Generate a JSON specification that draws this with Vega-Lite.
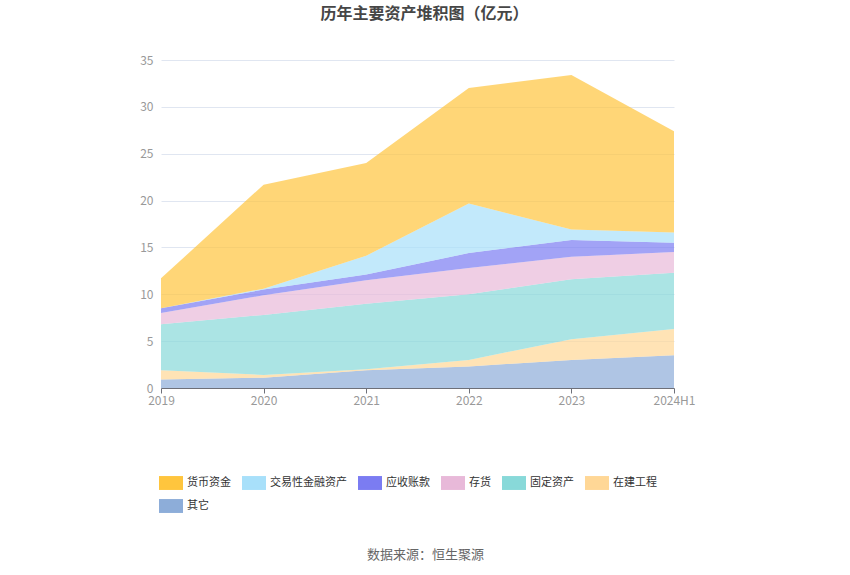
{
  "$schema": "https://vega.github.io/schema/vega-lite/v6.json",
  "autosize": {"type": "none"},
  "width": 513,
  "height": 328,
  "padding": {"left": 161, "top": 60, "right": 176, "bottom": 187},
  "title": {
    "text": "历年主要资产堆积图（亿元）",
    "font": "Noto Sans CJK SC",
    "fontSize": 16,
    "fontWeight": "bold",
    "color": "#464646",
    "anchor": "middle",
    "dx": 7,
    "offset": 32
  },
  "data": {
    "values": [
      {"year": "2019", "series": "其它", "value": 0.9},
      {"year": "2019", "series": "在建工程", "value": 1.0},
      {"year": "2019", "series": "固定资产", "value": 4.9},
      {"year": "2019", "series": "存货", "value": 1.2},
      {"year": "2019", "series": "应收账款", "value": 0.5},
      {"year": "2019", "series": "交易性金融资产", "value": 0.0},
      {"year": "2019", "series": "货币资金", "value": 3.2},
      {"year": "2020", "series": "其它", "value": 1.1},
      {"year": "2020", "series": "在建工程", "value": 0.3},
      {"year": "2020", "series": "固定资产", "value": 6.4},
      {"year": "2020", "series": "存货", "value": 2.1},
      {"year": "2020", "series": "应收账款", "value": 0.6},
      {"year": "2020", "series": "交易性金融资产", "value": 0.1},
      {"year": "2020", "series": "货币资金", "value": 11.1},
      {"year": "2021", "series": "其它", "value": 1.9},
      {"year": "2021", "series": "在建工程", "value": 0.1},
      {"year": "2021", "series": "固定资产", "value": 7.0},
      {"year": "2021", "series": "存货", "value": 2.5},
      {"year": "2021", "series": "应收账款", "value": 0.6},
      {"year": "2021", "series": "交易性金融资产", "value": 2.0},
      {"year": "2021", "series": "货币资金", "value": 9.9},
      {"year": "2022", "series": "其它", "value": 2.3},
      {"year": "2022", "series": "在建工程", "value": 0.7},
      {"year": "2022", "series": "固定资产", "value": 7.0},
      {"year": "2022", "series": "存货", "value": 2.8},
      {"year": "2022", "series": "应收账款", "value": 1.6},
      {"year": "2022", "series": "交易性金融资产", "value": 5.3},
      {"year": "2022", "series": "货币资金", "value": 12.3},
      {"year": "2023", "series": "其它", "value": 3.0},
      {"year": "2023", "series": "在建工程", "value": 2.2},
      {"year": "2023", "series": "固定资产", "value": 6.4},
      {"year": "2023", "series": "存货", "value": 2.4},
      {"year": "2023", "series": "应收账款", "value": 1.8},
      {"year": "2023", "series": "交易性金融资产", "value": 1.1},
      {"year": "2023", "series": "货币资金", "value": 16.5},
      {"year": "2024H1", "series": "其它", "value": 3.5},
      {"year": "2024H1", "series": "在建工程", "value": 2.8},
      {"year": "2024H1", "series": "固定资产", "value": 6.0},
      {"year": "2024H1", "series": "存货", "value": 2.2},
      {"year": "2024H1", "series": "应收账款", "value": 1.0},
      {"year": "2024H1", "series": "交易性金融资产", "value": 1.1},
      {"year": "2024H1", "series": "货币资金", "value": 10.8}
    ]
  },
  "transform": [
    {"calculate": "indexof(['其它','在建工程','固定资产','存货','应收账款','交易性金融资产','货币资金'], datum.series)", "as": "stackRank"}
  ],
  "mark": {"type": "area", "opacity": 0.7, "interpolate": "linear"},
  "encoding": {
    "x": {
      "field": "year",
      "type": "ordinal",
      "scale": {"type": "point", "padding": 0},
      "axis": {
        "labelAngle": 0,
        "labelColor": "#999999",
        "labelFontSize": 12,
        "labelPadding": 2,
        "domainColor": "#6E7079",
        "tickColor": "#6E7079",
        "tickSize": 5,
        "grid": false,
        "title": "数据来源：恒生聚源",
        "titleFontSize": 13,
        "titleFontWeight": "normal",
        "titleColor": "#666666",
        "titleX": 264,
        "titleY": 166,
        "titleAnchor": "middle",
        "titleAlign": "center",
        "titleBaseline": "middle"
      }
    },
    "y": {
      "field": "value",
      "type": "quantitative",
      "stack": "zero",
      "scale": {"domain": [0, 35]},
      "axis": {
        "values": [0, 5, 10, 15, 20, 25, 30, 35],
        "title": null,
        "domain": false,
        "ticks": false,
        "labelPadding": 8,
        "labelColor": "#999999",
        "labelFontSize": 12,
        "gridColor": "#E0E6F1"
      }
    },
    "color": {
      "field": "series",
      "type": "nominal",
      "scale": {
        "domain": ["货币资金", "交易性金融资产", "应收账款", "存货", "固定资产", "在建工程", "其它"],
        "range": ["#FFC53D", "#A8E0FA", "#7B7CF2", "#E8B9D9", "#88D9D9", "#FFD796", "#8DADD9"]
      },
      "legend": {
        "title": null,
        "orient": "none",
        "legendX": -2,
        "legendY": 411,
        "direction": "horizontal",
        "columns": 6,
        "gridAlign": "none",
        "columnPadding": 11,
        "rowPadding": 4,
        "symbolType": "M-1,-0.58H1V0.58H-1Z",
        "symbolSize": 576,
        "symbolOpacity": 1,
        "symbolStrokeWidth": 0,
        "labelFontSize": 11,
        "labelColor": "#333333",
        "labelOffset": 4
      }
    },
    "order": {"field": "stackRank", "type": "quantitative"}
  },
  "config": {
    "font": "Noto Sans CJK SC",
    "view": {"stroke": null}
  }
}
